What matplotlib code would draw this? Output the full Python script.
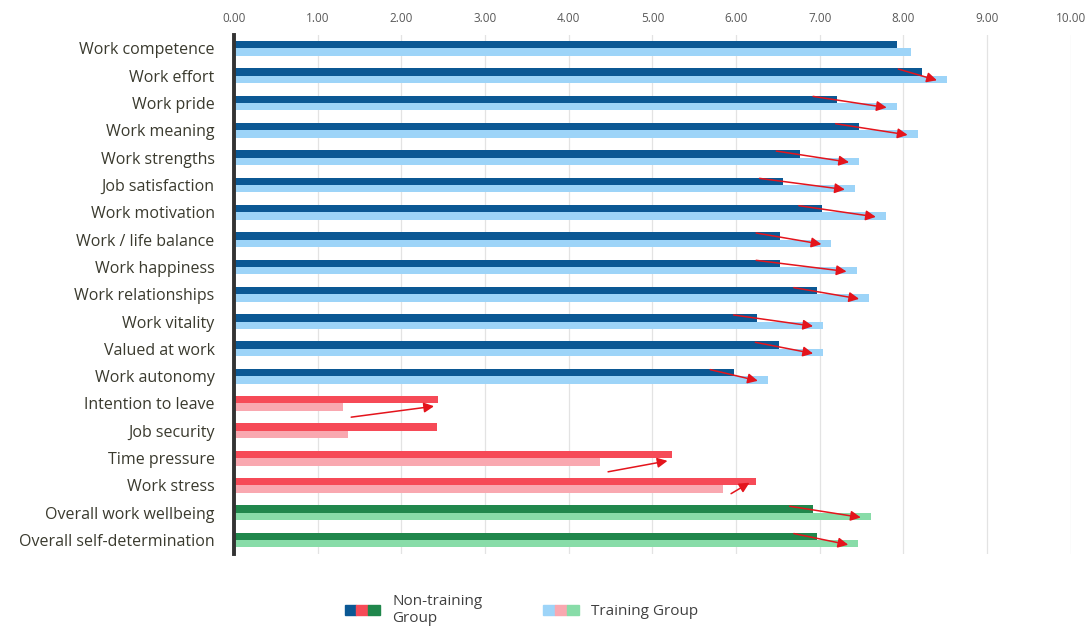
import matplotlib.pyplot as plt
from matplotlib.patches import Patch
from matplotlib.legend_handler import HandlerTuple

plt.rcParams['font.family'] = ['Open Sans', 'DejaVu Sans']

categories = [
    "Work competence", "Work effort", "Work pride", "Work meaning",
    "Work strengths", "Job satisfaction", "Work motivation",
    "Work / life balance", "Work happiness", "Work relationships",
    "Work vitality", "Valued at work", "Work autonomy",
    "Intention to leave", "Job security", "Time pressure", "Work stress",
    "Overall work wellbeing", "Overall self-determination",
]
non_training = [7.92, 8.22, 7.20, 7.47, 6.76, 6.56, 7.03, 6.52, 6.52, 6.97,
                6.25, 6.51, 5.97, 2.44, 2.43, 5.23, 6.24, 6.92, 6.97]
training = [8.09, 8.52, 7.92, 8.17, 7.47, 7.42, 7.79, 7.14, 7.44, 7.59,
            7.04, 7.04, 6.38, 1.30, 1.36, 4.37, 5.84, 7.61, 7.46]
# group: 0 = work outcomes (blue), 1 = stressors (red), 2 = overall (green)
groups = [0] * 13 + [1] * 4 + [2] * 2
has_arrow = [False] + [True] * 13 + [False] + [True] * 4
x_ticks = [0, 1, 2, 3, 4, 5, 6, 7, 8, 9, 10]

dark_colors = ["#0B5894", "#F64A57", "#20874C"]
light_colors = ["#9DD4F8", "#F9A8B0", "#88DCA8"]
arrow_color = "#E4141C"

fig = plt.figure(figsize=(10.86, 6.3), dpi=100)
ax = fig.add_axes([0.2155, 0.121, 0.7705, 0.824])

h = 0.27
for i, (d, t, g) in enumerate(zip(non_training, training, groups)):
    ax.barh(i - h / 2, d, height=h, color=dark_colors[g], zorder=2)
    ax.barh(i + h / 2, t, height=h, color=light_colors[g], zorder=2)

    if not has_arrow[i]:
        continue
    if t >= d:
        start = (d - 0.28, i - 0.24)
        end = (t - 0.12, i + 0.17)
    elif d - t > 0.5:
        start = (t + 0.1, i + 0.5)
        end = (d - 0.05, i + 0.1)
    else:
        start = (t + 0.1, i + 0.3)
        end = (d - 0.08, i - 0.1)
    ax.annotate("", xy=end, xytext=start, zorder=4,
                arrowprops=dict(arrowstyle="-|>", color=arrow_color, lw=1.1,
                                mutation_scale=15, shrinkA=0, shrinkB=0))

ax.set_xlim(0, 10)
ax.set_ylim(18.5, -0.5)
ax.set_xticks(x_ticks)
ax.set_xticklabels([f"{v:.2f}" for v in x_ticks])
ax.xaxis.tick_top()
ax.tick_params(axis="x", length=0, labelsize=8.5, labelcolor="#595959", pad=7)
ax.set_yticks(range(len(categories)))
ax.set_yticklabels(categories)
ax.tick_params(axis="y", length=0, labelsize=11.5, labelcolor="#3A3A2E", pad=14)

ax.grid(axis="x", color="#E3E3E3", lw=0.9, zorder=0)
for side in ["top", "right", "bottom"]:
    ax.spines[side].set_visible(False)
ax.spines["left"].set_linewidth(2.8)
ax.spines["left"].set_color("#333333")
ax.spines["left"].set_zorder(5)

dark_handle = tuple(Patch(color=c) for c in dark_colors)
light_handle = tuple(Patch(color=c) for c in light_colors)
fig.legend([dark_handle, light_handle], ["Non-training\nGroup", "Training Group"],
           handler_map={tuple: HandlerTuple(ndivide=None, pad=0)},
           loc="center", bbox_to_anchor=(0.48, 0.032), ncol=2, frameon=False,
           fontsize=11, labelcolor="#404040", handlelength=2.3, handleheight=0.6,
           columnspacing=4, handletextpad=0.8)

fig.savefig("out.png", dpi=100)
